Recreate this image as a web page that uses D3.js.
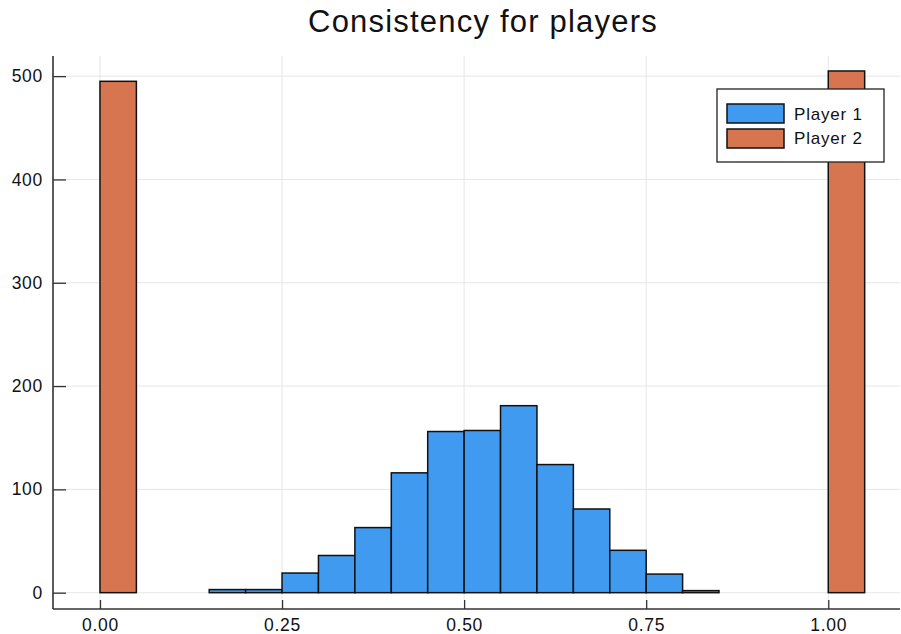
<!DOCTYPE html>
<html><head><meta charset="utf-8">
<script src="https://cdn.jsdelivr.net/npm/d3@7"></script>
<style>body{margin:0;background:#fff;} text{font-family:"Liberation Sans",Arial,Helvetica,sans-serif;}</style>
</head><body>
<svg id="chart" width="901" height="634"></svg>
<script>
// Histogram bins (left edges), width 0.05
const binEdges = [0,0.05,0.1,0.15,0.2,0.25,0.3,0.35,0.4,0.45,0.5,0.55,0.6,0.65,0.7,0.75,0.8,0.85,0.9,0.95,1.0];
const binWidth = 0.05;
const player1 = [0,0,0,3,3,19,36,63,116,156,157,181,124,81,41,18,2,0,0,0,0];
const player2 = [495,0,0,0,0,0,0,0,0,0,0,0,0,0,0,0,0,0,0,0,505];
const seriesNames = ["Player 1","Player 2"];
const xTicks = [0,0.25,0.5,0.75,1.0];
const xTickLabels = ["0.00","0.25","0.50","0.75","1.00"];
const yTicks = [0,100,200,300,400,500];
const titleText = "Consistency for players";
const colors = ["#409af0","#d6754f"];

const svg = d3.select("#chart");
const L = 53, R = 900, T = 56, B = 609;
const x = d3.scaleLinear().domain([-0.0645, 1.0985]).range([L, R]);
const y = d3.scaleLinear().domain([-15.8, 519.5]).range([B, T]);

// grid
const grid = svg.append("g").attr("stroke", "#e6e6e6").attr("stroke-width", 1);
xTicks.forEach(t => grid.append("line").attr("x1", x(t)).attr("x2", x(t)).attr("y1", T).attr("y2", B));
yTicks.forEach(t => grid.append("line").attr("x1", L).attr("x2", R).attr("y1", y(t)).attr("y2", y(t)));

// bars
[player1, player2].forEach((vals, si) => {
  svg.append("g").selectAll("rect").data(vals.map((v, i) => ({x0: binEdges[i], v})))
    .join("rect")
    .attr("x", d => x(d.x0))
    .attr("width", d => x(d.x0 + binWidth) - x(d.x0))
    .attr("y", d => y(d.v))
    .attr("height", d => y(0) - y(d.v))
    .attr("fill", colors[si])
    .attr("stroke", "#111")
    .attr("stroke-width", 1.5);
});

// axes
const xAxis = d3.axisBottom(x).tickValues(xTicks).tickFormat((d, i) => xTickLabels[i]).tickSize(-9).tickPadding(10);
const gx = svg.append("g").attr("transform", `translate(0,${B})`).call(xAxis);
gx.select(".domain").attr("d", `M${L},0H${R}`).attr("stroke", "#333").attr("stroke-width", 1.6);
gx.selectAll(".tick line").attr("stroke", "#333").attr("stroke-width", 1.3);
gx.selectAll(".tick text").attr("font-size", 17.5).attr("letter-spacing", "0.7px").attr("fill", "#111").attr("font-family", "Liberation Sans, Arial, sans-serif");

const yAxis = d3.axisLeft(y).tickValues(yTicks).tickSize(-13).tickPadding(10);
const gy = svg.append("g").attr("transform", `translate(${L},0)`).call(yAxis);
gy.select(".domain").attr("d", `M0,${T}V${B}`).attr("stroke", "#333").attr("stroke-width", 1.6);
gy.selectAll(".tick line").attr("stroke", "#333").attr("stroke-width", 1.3);
gy.selectAll(".tick text").attr("font-size", 17.5).attr("letter-spacing", "0.7px").attr("fill", "#111").attr("font-family", "Liberation Sans, Arial, sans-serif");

// title
svg.append("text").attr("x", 483).attr("y", 32).attr("text-anchor", "middle")
  .attr("font-size", 31).attr("letter-spacing", "1.2px").attr("fill", "#111").text(titleText);

// legend
const lg = svg.append("g");
lg.append("rect").attr("x", 717).attr("y", 89).attr("width", 167).attr("height", 73)
  .attr("fill", "#fff").attr("stroke", "#222").attr("stroke-width", 1.3);
seriesNames.forEach((n, i) => {
  lg.append("rect").attr("x", 727).attr("y", 104 + i * 25).attr("width", 57).attr("height", 19)
    .attr("fill", colors[i]).attr("stroke", "#111").attr("stroke-width", 1.5);
  lg.append("text").attr("x", 794).attr("y", 120 + i * 24).attr("font-size", 17).attr("letter-spacing", "0.8px").attr("fill", "#111").text(n);
});
</script>
</body></html>
